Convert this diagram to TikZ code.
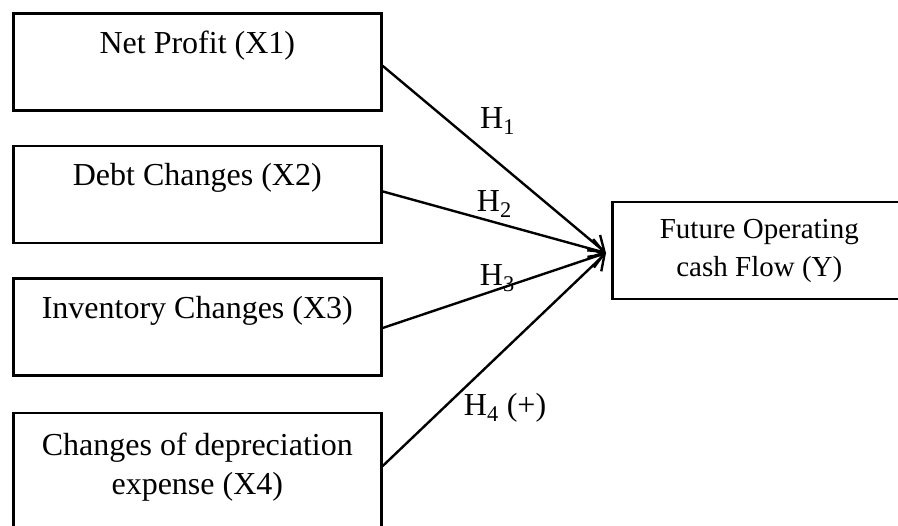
\documentclass[tikz,border=0pt]{standalone}
\usepackage{fontspec}
\setmainfont{Liberation Serif}
\usepackage{tikz}
\usetikzlibrary{positioning, arrows.meta}

\begin{document}
\begin{tikzpicture}[
    x=1pt, y=-1pt,
    var/.style  = {draw, line width=2.6pt, rectangle, align=center, inner sep=0pt,
                   minimum width=368pt, minimum height=97pt, font=\fontsize{32}{39}\selectfont},
    dep/.style  = {draw, line width=2.6pt, rectangle, align=center, inner sep=0pt,
                   minimum width=294pt, minimum height=97pt, font=\fontsize{29}{38}\selectfont},
    hyp/.style  = {inner sep=1pt, font=\fontsize{32}{38}\selectfont},
    edge/.style = {draw, line width=2.4pt, -{Straight Barb[length=14pt,width=20pt]}},
  ]
  \useasboundingbox (0,0) rectangle (898,526);
  \clip (0,0) rectangle (898,526);

  \node[var, anchor=north west] (x1) at (12,12) {Net Profit (X1)\\~};
  \node[var, below=33pt of x1] (x2) {Debt Changes (X2)\\~};
  \node[var, below=33pt of x2] (x3) {Inventory Changes (X3)\\~};
  \node[var, below=35pt of x3, minimum height=140pt] (x4) {Changes of depreciation\\expense (X4)\\~};
  \node[dep, anchor=west] (y) at (611,250.5) {Future Operating\\cash Flow (Y)};
  \coordinate (tip) at ([xshift=-5pt,yshift=-2.5pt]y.west);

  \draw[edge] ([yshift=-4pt]x1.east) -- node[hyp, pos=.4, anchor=base west, xshift=6pt, yshift=12pt] (h1) {H\textsubscript{1}} (tip);
  \draw[edge] ([yshift=3pt]x2.east) -- node[hyp, pos=.5, anchor=base, yshift=11pt] (h2) {H\textsubscript{2}} (tip);
  \draw[edge] ([yshift=-1pt]x3.east) -- node[hyp, pos=.5, anchor=base, xshift=3pt, yshift=5pt] (h3) {H\textsubscript{3}} (tip);
  \draw[edge] ([yshift=17pt]x4.east) -- node[hyp, pos=.35, anchor=base west, xshift=1pt, yshift=-24pt] (h4) {H\textsubscript{4} (+)} (tip);
\end{tikzpicture}
\end{document}
